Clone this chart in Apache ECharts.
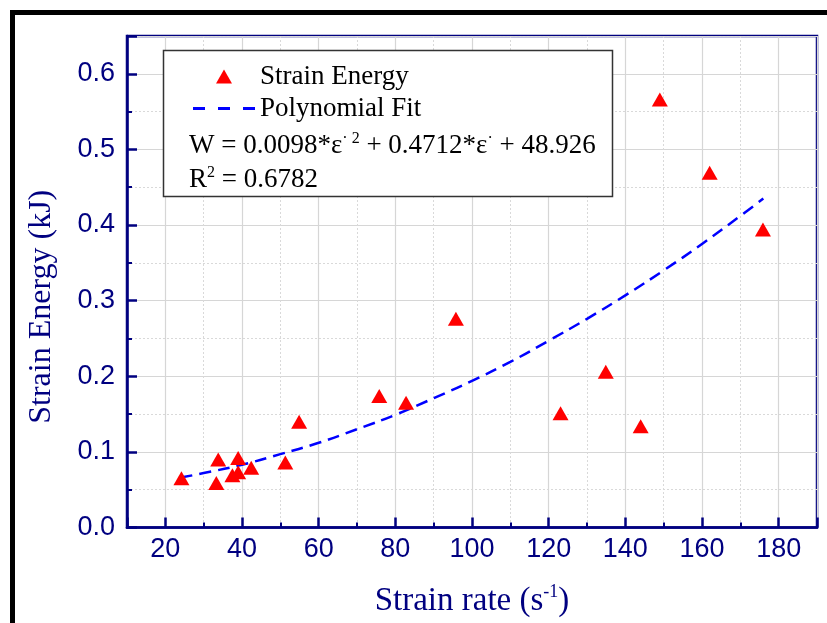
<!DOCTYPE html>
<html>
<head>
<meta charset="utf-8">
<title>Strain Energy vs Strain rate</title>
<script src="https://cdn.jsdelivr.net/npm/echarts@6/dist/echarts.min.js"></script>
<style>
  html, body { margin: 0; padding: 0; background: #ffffff; }
  #chart { width: 827px; height: 623px; }
</style>
</head>
<body>
<div id="chart"></div>
<script>
// Measured specimens: strain rate (1/s) and absorbed strain energy (kJ)
const strainRate = [24.2, 33.3, 33.8, 37.5, 39.0, 39.0, 42.4, 51.3, 54.9, 75.8, 82.8, 95.8, 123.1, 134.9, 144.0, 149.0, 162.0, 175.9];
const strainEnergy = [0.065, 0.059, 0.090, 0.069, 0.073, 0.092, 0.079, 0.086, 0.140, 0.174, 0.165, 0.276, 0.151, 0.206, 0.134, 0.566, 0.469, 0.394];

// Points along the quadratic fit curve
const fitRate = [24, 30, 40, 50, 60, 70, 80, 90, 100, 110, 120, 130, 140, 150, 160, 170, 176];
const fitEnergy = [0.066, 0.072, 0.083, 0.097, 0.112, 0.130, 0.149, 0.171, 0.194, 0.219, 0.247, 0.276, 0.307, 0.340, 0.375, 0.412, 0.435];

const seriesNames = ['Strain Energy', 'Polynomial Fit'];
const equationText = ['W = 0.0098*ε', '· 2', ' + 0.4712*ε', '·', ' + 48.926'];
const rSquaredText = ['R', '2', ' = 0.6782'];

const navy = '#000080';
const serif = 'Liberation Serif';
const sans = 'Liberation Sans';

// legend glyphs: a solid triangle and a three-dash line segment
const triangleIcon = 'path://M0,14L8,0L16,14Z';
const dashIcon = 'path://M0,0h12v3h-12z M25,0h12v3h-12z M50,0h12v3h-12z';

const chart = echarts.init(document.getElementById('chart'), null, { renderer: 'canvas' });

const scatterData = strainRate.map((x, i) => [x, strainEnergy[i]]);
const fitData = fitRate.map((x, i) => [x, fitEnergy[i]]);

const supRich = {
  t: { fontFamily: serif, fontSize: 27, color: '#000', lineHeight: 30 },
  s: { fontFamily: serif, fontSize: 16, color: '#000', verticalAlign: 'top', lineHeight: 30 }
};

const axisCommon = {
  axisLine: { show: true, onZero: false, lineStyle: { color: navy, width: 2.5 } },
  axisTick: { show: true, inside: true, length: 10, lineStyle: { color: navy, width: 2.5 } },
  minorTick: { show: true, splitNumber: 2, length: 5, lineStyle: { color: navy, width: 2 } },
  splitLine: { show: true, lineStyle: { color: '#d6d6d6', width: 1.2 } },
  minorSplitLine: { show: true, lineStyle: { color: '#d9d9d9', width: 1, type: [2, 2] } }
};

chart.setOption({
  animation: false,
  backgroundColor: '#ffffff',
  grid: {
    left: 127, top: 36, right: 10, bottom: 95,
    show: true, borderColor: navy, borderWidth: 2.5, backgroundColor: 'transparent'
  },
  xAxis: Object.assign({
    type: 'value', min: 10, max: 190, splitNumber: 9,
    name: '{a|Strain rate (s}{b|-1}{a|)}',
    nameLocation: 'middle', nameGap: 56,
    nameTextStyle: {
      rich: {
        a: { fontFamily: serif, fontSize: 33, color: navy, lineHeight: 36 },
        b: { fontFamily: serif, fontSize: 18, color: navy, verticalAlign: 'top', lineHeight: 36 }
      }
    },
    axisLabel: {
      margin: 9, fontFamily: sans, fontSize: 27, color: navy,
      formatter: v => (v % 20 === 0 ? String(v) : '')
    }
  }, axisCommon),
  yAxis: Object.assign({
    type: 'value', min: 0, max: 0.65, interval: 0.1,
    name: 'Strain Energy (kJ)',
    nameLocation: 'middle', nameRotate: 90, nameGap: 69,
    nameTextStyle: { fontFamily: serif, fontSize: 32, color: navy, padding: [0, 50, 0, 0] },
    axisLabel: {
      margin: 12, fontFamily: sans, fontSize: 27, color: navy,
      formatter: v => (v > 0.61 ? '' : v.toFixed(1))
    }
  }, axisCommon),
  legend: {
    orient: 'vertical', left: 188, top: 58, z: 20,
    itemWidth: 62, itemHeight: 14, itemGap: 5,
    symbolKeepAspect: true,
    data: [
      { name: seriesNames[0], icon: triangleIcon },
      { name: seriesNames[1], icon: dashIcon }
    ],
    textStyle: { fontFamily: serif, fontSize: 27, color: '#000' }
  },
  graphic: [
    // outer page frame
    {
      type: 'rect', z: 0, silent: true,
      shape: { x: 12.5, y: 12.5, width: 900, height: 700 },
      style: { fill: 'none', stroke: '#000', lineWidth: 5 }
    },
    // legend box
    {
      type: 'rect', z: 5, silent: true,
      shape: { x: 163.5, y: 50.5, width: 449, height: 146 },
      style: { fill: '#ffffff', stroke: '#333', lineWidth: 1.5 }
    },
    {
      type: 'text', z: 6, silent: true, left: 189, top: 131,
      style: {
        text: '{t|' + equationText[0] + '}{s|' + equationText[1] + '}{t|' + equationText[2] + '}{s|' + equationText[3] + '}{t|' + equationText[4] + '}',
        rich: supRich
      }
    },
    {
      type: 'text', z: 6, silent: true, left: 189, top: 165,
      style: {
        text: '{t|' + rSquaredText[0] + '}{s|' + rSquaredText[1] + '}{t|' + rSquaredText[2] + '}',
        rich: supRich
      }
    }
  ],
  series: [
    {
      name: seriesNames[0], type: 'scatter', z: 4,
      data: scatterData,
      symbol: 'triangle', symbolSize: [16, 14], symbolKeepAspect: true,
      itemStyle: { color: '#ff0000', opacity: 1 }
    },
    {
      name: seriesNames[1], type: 'line', z: 3,
      data: fitData, smooth: true, showSymbol: false, symbol: 'none',
      lineStyle: { color: '#0000ff', width: 2.5, type: [12, 7] },
      itemStyle: { color: '#0000ff' }
    }
  ]
});
</script>
</body>
</html>
